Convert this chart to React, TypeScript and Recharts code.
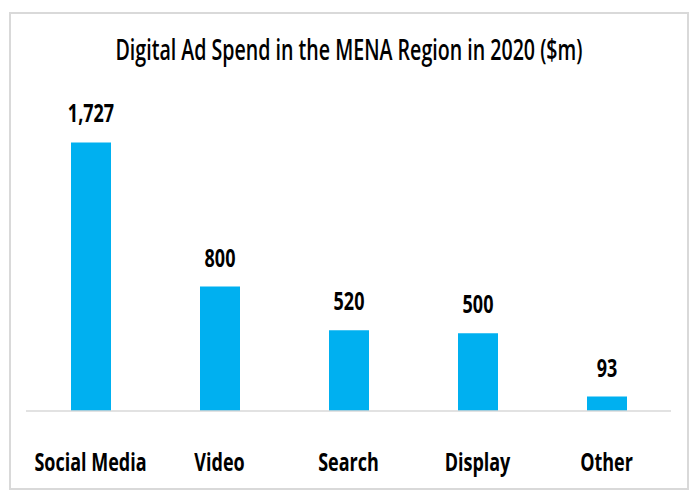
import { BarChart, Bar, XAxis, YAxis, LabelList } from 'recharts';

const categories = ['Social Media', 'Video', 'Search', 'Display', 'Other'];
const spend = [1727, 800, 520, 500, 93];

const data = categories.map((name, i) => ({ name, spend: spend[i] }));

const FONT = '"Open Sans", "Noto Sans", sans-serif';
const SQUEEZE = 0.72; // narrow the glyphs to look like Calibri

const fmt = (v: any) => Number(v).toLocaleString('en-US');

function Tick(props: any) {
  const { x, y, payload } = props;
  return (
    <text
      transform={`translate(${x},${y + 52}) scale(${SQUEEZE},1)`}
      textAnchor="middle"
      fill="#000"
      fontSize={25}
      fontWeight="bold"
      fontFamily={FONT}
    >
      {payload.value}
    </text>
  );
}

function ValueLabel(props: any) {
  const { x, y, width, value } = props;
  return (
    <text
      transform={`translate(${Number(x) + Number(width) / 2},${Number(y) - 20}) scale(${SQUEEZE},1)`}
      textAnchor="middle"
      fill="#000"
      fontSize={25}
      fontWeight="bold"
      fontFamily={FONT}
    >
      {fmt(value)}
    </text>
  );
}

export default function App() {
  return (
    <div
      style={{
        position: 'relative',
        marginTop: 4,
        marginLeft: 1,
        width: 676,
        height: 474,
        border: '2px solid #d9d9d9',
        background: '#fff',
      }}
    >
      <div
        style={{
          position: 'absolute',
          top: 21,
          left: 0,
          width: '100%',
          textAlign: 'center',
          fontFamily: FONT,
          fontSize: 28,
          lineHeight: '28px',
          fontWeight: 600,
          color: '#000',
          whiteSpace: 'nowrap',
          transform: `scaleX(0.7)`,
        }}
      >
        Digital Ad Spend in the MENA Region in 2020 ($m)
      </div>
      <BarChart
        width={676}
        height={474}
        data={data}
        margin={{ top: 86, right: 16, left: 15, bottom: 17 }}
      >
        <XAxis dataKey="name" axisLine={{ stroke: '#d9d9d9', strokeWidth: 1.5 }} tickLine={false} tick={<Tick />} interval={0} height={60} />
        <YAxis hide domain={[0, 2000]} />
        <Bar dataKey="spend" fill="#00B0F0" barSize={40} isAnimationActive={false}>
          <LabelList dataKey="spend" content={<ValueLabel />} />
        </Bar>
      </BarChart>
    </div>
  );
}
